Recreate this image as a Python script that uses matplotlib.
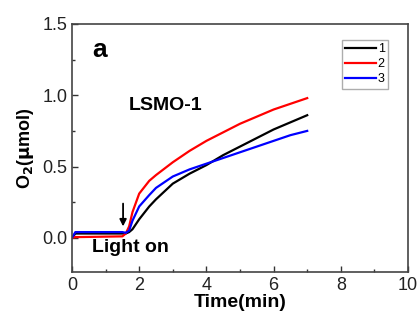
import numpy as np
import matplotlib
matplotlib.use("Agg")
import matplotlib.pyplot as plt
from matplotlib.ticker import MultipleLocator

plt.rcParams['font.family'] = ['Liberation Sans', 'DejaVu Sans']

# time (min) and O2 evolved (umol) for the three runs
t = [0, 0.1, 0.2, 1.5, 1.6, 1.7, 1.8, 2.0, 2.3, 2.5, 3.0, 3.5, 4.0, 4.5, 5.0, 5.5, 6.0, 6.5, 7.0]
o2_1 = [0.0, 0.03, 0.03, 0.03, 0.03, 0.04, 0.06, 0.13, 0.22, 0.27, 0.38, 0.45, 0.51, 0.58, 0.64, 0.70, 0.76, 0.81, 0.86]
o2_2 = [0.0, 0.005, 0.005, 0.01, 0.03, 0.08, 0.18, 0.31, 0.40, 0.44, 0.53, 0.61, 0.68, 0.74, 0.80, 0.85, 0.90, 0.94, 0.98]
o2_3 = [0.0, 0.04, 0.04, 0.04, 0.035, 0.05, 0.12, 0.22, 0.30, 0.35, 0.43, 0.48, 0.52, 0.56, 0.60, 0.64, 0.68, 0.72, 0.75]
labels = ['1', '2', '3']
colors = ['black', 'red', 'blue']

fig = plt.figure(figsize=(4.2, 3.2), dpi=100)
ax = fig.add_axes([72/420, 1 - 272/320, 336/420, 248/320])

for y, lab, c in zip([o2_1, o2_2, o2_3], labels, colors):
    ax.plot(t, y, color=c, lw=1.6, label=lab)

ax.set_xlim(0, 10)
ax.set_ylim(-0.24, 1.5)
ax.xaxis.set_major_locator(MultipleLocator(2))
ax.xaxis.set_minor_locator(MultipleLocator(1))
ax.yaxis.set_major_locator(MultipleLocator(0.5))
ax.yaxis.set_minor_locator(MultipleLocator(0.25))
ax.tick_params(which='both', direction='in', labelsize=13, width=1, color='#333333',
               labelcolor='#222222')
ax.tick_params(which='major', length=4)
ax.tick_params(which='minor', length=2.5)
for s in ax.spines.values():
    s.set_linewidth(1.2)
    s.set_color('#444444')

ax.set_xlabel('Time(min)', fontsize=14, fontweight='bold', labelpad=0)
ax.set_ylabel(r'O$_\mathbf{2}$($\mathbf{\mu}$mol)', fontsize=13, fontweight='bold', labelpad=4)

ax.text(0.06, 0.865, 'a', transform=ax.transAxes, fontsize=19, fontweight='bold')
ax.text(0.17, 0.655, 'LSMO-1', transform=ax.transAxes, fontsize=14, fontweight='bold')
ax.text(0.06, 0.08, 'Light on', transform=ax.transAxes, fontsize=14, fontweight='bold')
# arrow marking light on
ax.annotate('', xy=(1.52, 0.08), xytext=(1.52, 0.24),
            arrowprops=dict(arrowstyle='-|>', color='black', lw=1.3, mutation_scale=10,
                            shrinkA=0, shrinkB=0))

ax.legend(loc='upper right', bbox_to_anchor=(0.94, 0.935), fontsize=9, frameon=True,
          fancybox=False, edgecolor='#999999', handlelength=2.5, handletextpad=0.1,
          borderpad=0.25, labelspacing=0.25, borderaxespad=0)

fig.savefig('out.png', dpi=100)
